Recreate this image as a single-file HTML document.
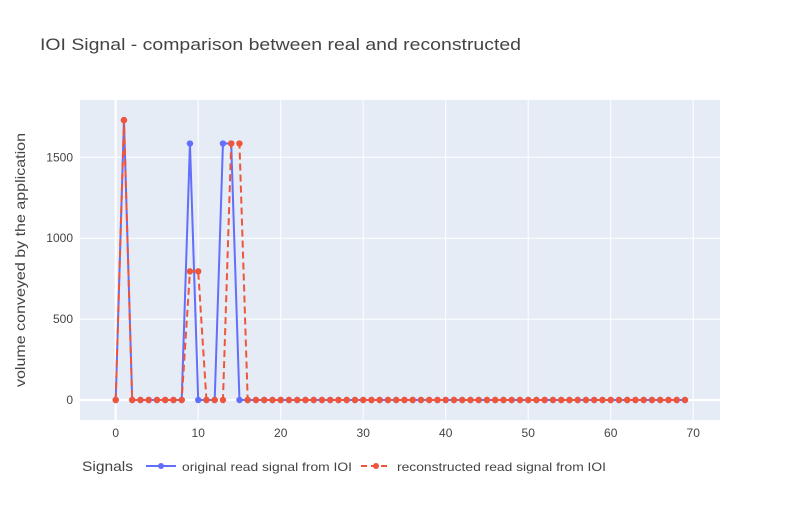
<!DOCTYPE html>
<html><head><meta charset="utf-8"><style>
body{margin:0;background:#fff;font-family:"Liberation Sans",sans-serif}
text{font-family:"Liberation Sans",sans-serif}
</style></head><body>
<svg width="800" height="500">
<rect x="0" y="0" width="800" height="500" fill="#fff"/>
<rect x="80" y="100" width="640" height="320" fill="#e5ecf6"/>
<g id="grid"></g>
<g id="marks"></g>
<text x="40" y="50" font-size="17" fill="#444" textLength="481" lengthAdjust="spacingAndGlyphs">IOI Signal - comparison between real and reconstructed</text>
<text transform="translate(25,260) rotate(-90)" text-anchor="middle" font-size="14" fill="#444" textLength="254" lengthAdjust="spacingAndGlyphs">volume conveyed by the application</text>
<g>
<text x="82" y="471" font-size="14" fill="#444" textLength="51" lengthAdjust="spacingAndGlyphs">Signals</text>
<g><line x1="146" y1="466" x2="176" y2="466" stroke="#636efa" stroke-width="2"/><circle cx="161" cy="466" r="3" fill="#636efa"/><text x="182" y="471" font-size="12" fill="#444" textLength="170" lengthAdjust="spacingAndGlyphs">original read signal from IOI</text></g>
<g><line x1="361" y1="466" x2="391" y2="466" stroke="#ef553b" stroke-width="2" stroke-dasharray="6,4"/><circle cx="376" cy="466" r="3" fill="#ef553b"/><text x="397" y="471" font-size="12" fill="#444" textLength="209" lengthAdjust="spacingAndGlyphs">reconstructed read signal from IOI</text></g>
</g>
</svg>
<script>
const N = 70;
const original = new Array(N).fill(0);
const originalPeaks = [[1,1730],[9,1585],[13,1585],[14,1585]];
const reconstructed = new Array(N).fill(0);
const reconstructedPeaks = [[1,1730],[9,795],[10,795],[14,1585],[15,1585]];
originalPeaks.forEach(([i,v])=>original[i]=v);
reconstructedPeaks.forEach(([i,v])=>reconstructed[i]=v);
const xTicks = [0,10,20,30,40,50,60,70];
const yTicks = [0,500,1000,1500];
const xs = v => 115.7 + 8.25*v;
const ys = v => 400 - 0.1618*v;
const NS="http://www.w3.org/2000/svg";
const grid=document.getElementById('grid'), marks=document.getElementById('marks');
function mk(tag,attrs,parent){const e=document.createElementNS(NS,tag);for(const k in attrs)e.setAttribute(k,attrs[k]);parent.appendChild(e);return e;}
xTicks.forEach(t=>{
  const l=mk('line',{x1:xs(t),x2:xs(t),y1:100,y2:420,stroke:'#fff','stroke-width':t===0?2:1},grid);
  
  
  const tx=mk('text',{x:xs(t),y:437,'text-anchor':'middle','font-size':12,fill:'#444'},grid);
  tx.textContent=t;
  
  
});
yTicks.forEach(t=>{
  const l=mk('line',{x1:80,x2:720,y1:ys(t),y2:ys(t),stroke:'#fff','stroke-width':t===0?2:1},grid);
  
  
  const tx=mk('text',{x:73,y:ys(t)+4,'text-anchor':'end','font-size':12,fill:'#444'},grid);
  tx.textContent=t;
  
  
});
function series(data,color,dash,name){
  const pts=data.map((v,i)=>xs(i)+','+ys(v)).join(' ');
  const pl=mk('polyline',{points:pts,fill:'none',stroke:color,'stroke-width':2,'stroke-dasharray':dash},marks);
  
  
  data.forEach((v,i)=>{
    const c=mk('circle',{cx:xs(i),cy:ys(v),r:3.2,fill:color},marks);
    
    
  });
}
series(original,'#636efa','none','original');
series(reconstructed,'#ef553b','7,4','reconstructed');
</script>
</body></html>
